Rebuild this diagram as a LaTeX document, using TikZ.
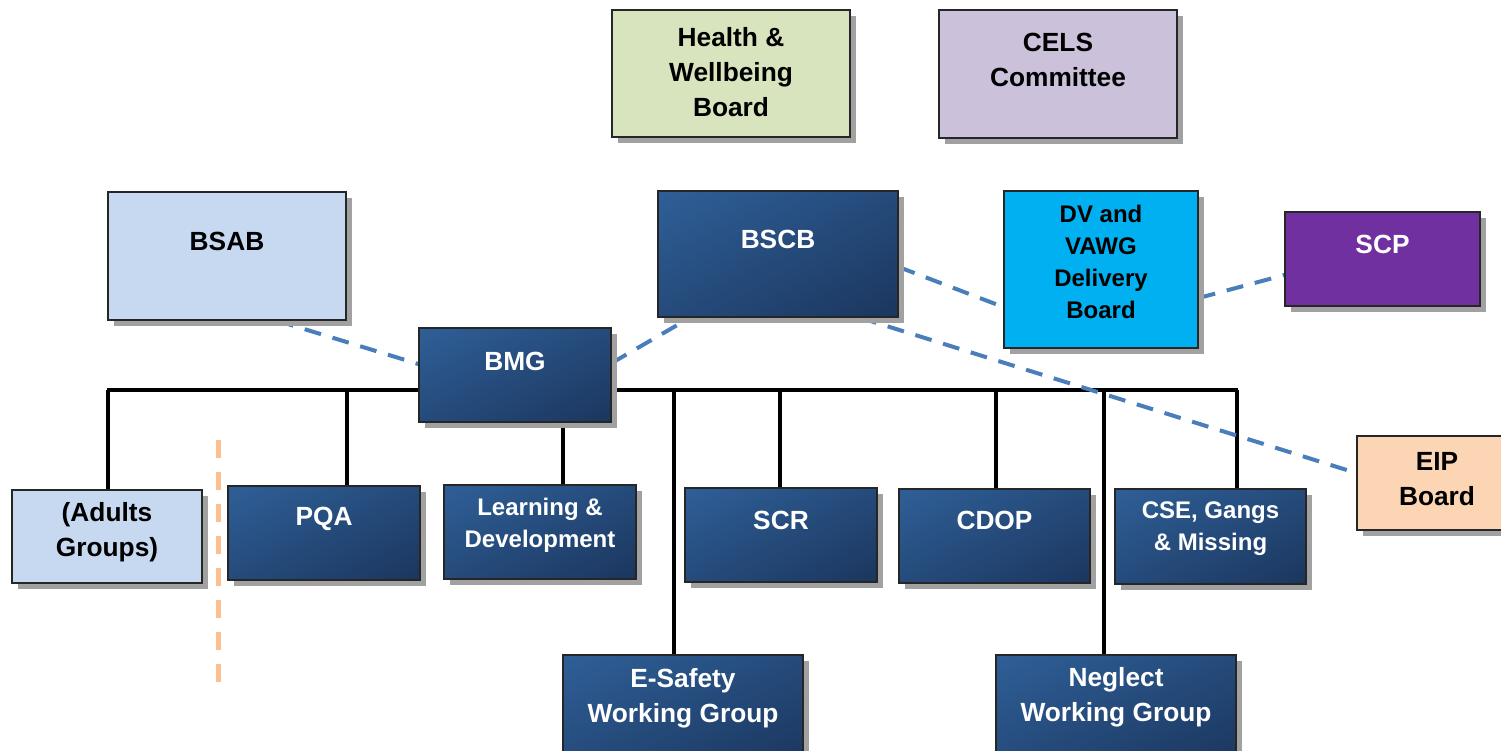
\documentclass[tikz,border=0pt]{standalone}
\usepackage{fontspec}
\setmainfont{Liberation Sans}
\usetikzlibrary{shadows,shadings,backgrounds}

\definecolor{navyhi}{HTML}{2F5F97}
\definecolor{navymid}{HTML}{254B7B}
\definecolor{navylo}{HTML}{1B365E}
\definecolor{hwbgreen}{HTML}{D7E4BD}
\definecolor{celslilac}{HTML}{CCC1DA}
\definecolor{adultblue}{HTML}{C6D9F1}
\definecolor{dvcyan}{HTML}{00B0F0}
\definecolor{scppurple}{HTML}{7030A0}
\definecolor{eippeach}{HTML}{FCD5B5}
\definecolor{linkblue}{HTML}{4A7EBB}
\definecolor{sepor}{HTML}{FAC090}

\begin{document}
\begin{tikzpicture}[x=1pt,y=-1pt,
  box/.style={draw=black!85,line width=1.4pt,inner sep=0pt,
    drop shadow={shadow xshift=6pt,shadow yshift=-6pt,fill=black!37,opacity=1}},
  pale/.style={box,fill=#1},
  navy/.style={box,upper left=navyhi,upper right=navymid,lower left=navymid,lower right=navylo},
  big/.style={font=\fontsize{26.3}{35}\selectfont\bfseries,align=center,inner sep=0pt},
  small/.style={font=\fontsize{24}{32}\selectfont\bfseries,align=center,inner sep=0pt},
  tree/.style={line width=4pt},
  link/.style={draw=linkblue,line width=4pt,dash pattern=on 17pt off 12pt},
  sep/.style={draw=sepor,line width=5pt,dash pattern=on 18pt off 14pt}]
  \useasboundingbox (0,0) rectangle (1501,750);
  \clip (0,0) rectangle (1501,750);

  % boards
  \node[pale=hwbgreen,minimum width=238,minimum height=127] (hwb) at (731,73.5) {};
  \node[big] (hwb-t) at ([yshift=1]hwb) {Health \&\\Wellbeing\\Board};
  \node[pale=celslilac,minimum width=238,minimum height=128] (cels) at (1058,74) {};
  \node[big] (cels-t) at ([yshift=14.5]cels) {CELS\\Committee};
  \node[pale=adultblue,minimum width=238,minimum height=128] (bsab) at (227,256) {};
  \node[big] (bsab-t) at ([yshift=15]bsab) {BSAB};
  \node[navy,minimum width=240,minimum height=126] (bscb) at (778,254) {};
  \node[big,text=white] (bscb-t) at ([yshift=15]bscb) {BSCB};
  \node[pale=dvcyan,minimum width=194,minimum height=157] (dv) at (1101,269.5) {};
  \node[small] (dv-t) at ([yshift=7.5]dv) {DV and\\VAWG\\Delivery\\Board};
  \node[pale=scppurple,minimum width=195,minimum height=94] (scp) at (1382.5,259) {};
  \node[big,text=white] (scp-t) at ([yshift=15]scp) {SCP};
  \node[navy,minimum width=192,minimum height=94] (bmg) at (515,375) {};
  \node[big,text=white] (bmg-t) at ([yshift=14]bmg) {BMG};
  \node[pale=eippeach,minimum width=160,minimum height=94] (eip) at (1437,483) {};
  \node[big] (eip-t) at ([yshift=4]eip) {EIP\\Board};

  % groups
  \node[pale=adultblue,minimum width=190,minimum height=93] (adults) at (107,536.5) {};
  \node[big] (adults-t) at ([yshift=4]adults) {(Adults\\Groups)};
  \node[navy,minimum width=192,minimum height=94] (pqa) at (324,533) {};
  \node[big,text=white] (pqa-t) at ([yshift=14]pqa) {PQA};
  \node[navy,minimum width=192,minimum height=94] (ld) at (540,532) {};
  \node[small,text=white] (ld-t) at ([yshift=7]ld) {Learning \&\\Development};
  \node[navy,minimum width=192,minimum height=94] (scr) at (781,535) {};
  \node[big,text=white] (scr-t) at ([yshift=15]scr) {SCR};
  \node[navy,minimum width=191,minimum height=94] (cdop) at (994.5,536) {};
  \node[big,text=white] (cdop-t) at ([yshift=16]cdop) {CDOP};
  \node[navy,minimum width=191,minimum height=95] (cse) at (1210.5,536.5) {};
  \node[small,text=white] (cse-t) at ([yshift=7.5]cse) {CSE, Gangs\\\& Missing};
  \node[navy,minimum width=240,minimum height=110] (esafety) at (683,710) {};
  \node[big,text=white] (esafety-t) at ([yshift=12]esafety) {E-Safety\\Working Group};
  \node[navy,minimum width=240,minimum height=110] (neglect) at (1116,710) {};
  \node[big,text=white] (neglect-t) at ([yshift=12.5]neglect) {Neglect\\Working Group};

  \draw[sep] (218,440) -- (218,688);

  \begin{scope}[on background layer]
    \coordinate (bus) at (0,390);
    \draw[tree] (adults.north |- bus) -- ([xshift=27]cse.north |- bus);
    \foreach \n/\dx in {adults/1,pqa/23,scr/-1,cdop/1.5,cse/26.5,esafety/-9,neglect/-12}
      \draw[tree] ([xshift=\dx]\n.north) -- ([xshift=\dx]\n.north |- bus);
    \draw[tree] ([xshift=23]ld.north) -- ([xshift=23]ld.north |- bmg.south);
    % dashed links
    \draw[link] ([xshift=50]bsab.south) -- ([yshift=11]bmg.west);
    \draw[link] ([yshift=12]bmg.east) -- ([xshift=-88]bscb.south);
    \draw[link] ([yshift=-13]bscb.east) -- ([yshift=-37.5]dv.west);
    \draw[link] ([yshift=-28.5]dv.east) -- ([yshift=-16]scp.west);
    \draw[link,shorten >=9pt] ([xshift=82]bscb.south) -- ([yshift=10]eip.west);
  \end{scope}
\end{tikzpicture}
\end{document}
